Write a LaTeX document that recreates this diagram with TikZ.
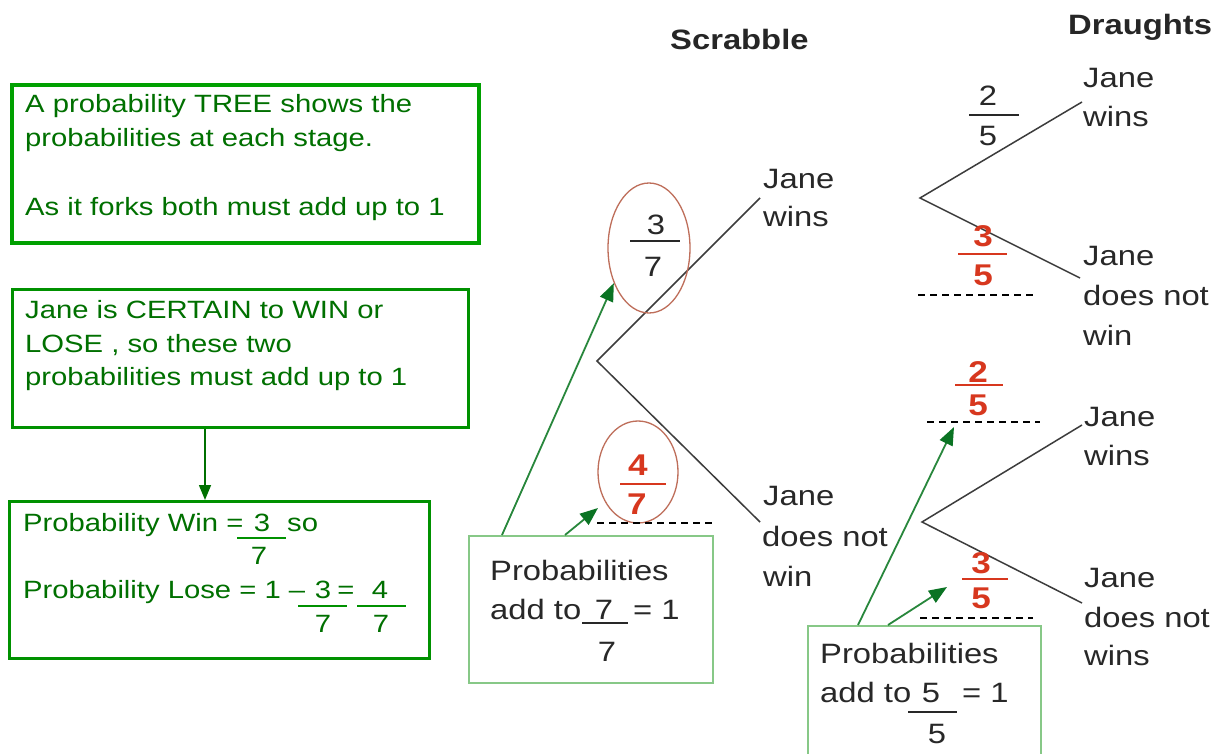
\documentclass[tikz,border=0pt]{standalone}
\usepackage{fontspec}
\setmainfont{Liberation Sans}[FakeStretch=1.17]
\usetikzlibrary{arrows.meta,shapes.geometric}
\definecolor{gtext}{RGB}{0,112,0}
\definecolor{gbord}{RGB}{0,160,0}
\definecolor{gbord2}{RGB}{0,145,0}
\definecolor{lbord}{RGB}{135,200,135}
\definecolor{tgray}{RGB}{40,40,40}
\definecolor{tline}{RGB}{60,60,60}
\definecolor{ellc}{RGB}{190,110,90}
\definecolor{redf}{RGB}{215,55,30}
\definecolor{garrow}{RGB}{40,135,60}
\definecolor{ghead}{RGB}{10,115,35}
\begin{document}
\begin{tikzpicture}[x=1pt,y=-1pt,
  gt/.style={anchor=base west,inner sep=0pt,text=gtext,font=\fontsize{25}{30}\selectfont},
  gd/.style={anchor=base,inner sep=0pt,text=gtext,font=\fontsize{25}{30}\selectfont},
  tt/.style={anchor=base west,inner sep=0pt,text=tgray,font=\fontsize{28}{30}\selectfont},
  td/.style={anchor=base,inner sep=0pt,text=tgray,font=\fontsize{28}{30}\selectfont},
  rd/.style={anchor=base,inner sep=0pt,text=redf,font=\bfseries\fontsize{30}{30}\selectfont},
  hd/.style={anchor=base west,inner sep=0pt,text=black!85,font=\bfseries\fontsize{28}{30}\selectfont},
  bigbox/.style={draw=gbord,line width=4pt,anchor=north west,inner sep=0pt},
  midbox/.style={draw=gbord2,line width=3pt,anchor=north west,inner sep=0pt},
  lbox/.style={draw=lbord,line width=1.5pt,anchor=north west,inner sep=0pt},
  ovl/.style={ellipse,draw=ellc,line width=1.3pt,inner sep=0pt},
  branch/.style={draw=tline,line width=1.5pt},
  dashline/.style={draw=black,line width=1.7pt,dash pattern=on 7pt off 5pt},
  fbar/.style={line width=1.4pt},
  garr/.style={draw=garrow,line width=1.8pt,-{Triangle[length=18pt,width=14pt,color=ghead]}},
  darr/.style={draw=gtext,line width=1.5pt,-{Triangle[length=15pt,width=12pt]}}
]
\fill[white] (0,0) rectangle (1223,754);
\useasboundingbox (0,0) rectangle (1223,754);

% ---------- left green boxes ----------
\node[bigbox,minimum width=467pt,minimum height=158pt] (b1) at (10,83) {};
\node[gt] (b1l1) at (25,113) {A probability TREE shows the};
\node[gt] (b1l2) at (25,147) {probabilities at each stage.};
\node[gt] (b1l3) at (25,215) {As it forks both must add up to 1};

\node[midbox,minimum width=456pt,minimum height=138pt] (b2) at (11,288) {};
\node[gt] (b2l1) at (25,318) {Jane is CERTAIN to WIN or};
\node[gt] (b2l2) at (25,352) {LOSE , so these two};
\node[gt] (b2l3) at (25,385) {probabilities must add up to 1};

\node[midbox,minimum width=420pt,minimum height=157pt] (b3) at (8,500) {};
\draw[darr] (b2.south -| 205,0) -- (b3.north -| 205,0);
\node[gt] (w1) at (23,531) {Probability Win =};
\node[gd] (w3) at (262,531) {3};
\node[gt] (wso) at (287,531) {so};
\draw[fbar,gbord2] (237,538) -- (286,538);
\node[gd] (w7) at (259,564) {7};
\node[gt] (l1) at (23,598) {Probability Lose = 1 \textendash};
\node[gd] (l3) at (323,598) {3};
\node[gd] (leq) at (346,598) {=};
\node[gd] (l4) at (380,598) {4};
\draw[fbar,gbord2] (298,606) -- (347,606);
\draw[fbar,gbord2] (357,606) -- (406,606);
\node[gd] (l7a) at (323,632) {7};
\node[gd] (l7b) at (381,632) {7};

% ---------- headers ----------
\node[hd] (hs) at (670,50) {Scrabble};
\node[hd] (hdr) at (1068,35) {Draughts};

% ---------- Scrabble tree ----------
\coordinate (s0) at (597,361);
\coordinate (s1) at (760,198);
\coordinate (s2) at (760,522);
\draw[branch] (s1) -- (s0) -- (s2);
\node[tt] (sj1) at (763,189) {Jane};
\node[tt] (sw1) at (763,226) {wins};
\node[tt] (sj2) at (763,505) {Jane};
\node[tt] (sd2) at (762,546) {does not};
\node[tt] (sw2) at (763,586) {win};

\node[ovl,minimum width=82pt,minimum height=130pt] (e1) at (649,248) {};
\node[td] (f3) at (656,234) {3};
\draw[fbar,tgray] (630,241) -- (680,241);
\node[td] (f7) at (653,276) {7};

\node[ovl,minimum width=80pt,minimum height=102pt] (e2) at (638,472) {};
\node[rd] (f4) at (638,475) {4};
\draw[fbar,redf,line width=2pt] (620,484) -- (666,484);
\node[rd] (f7r) at (637,514) {7};
\coordinate (d1a) at (597,523);
\coordinate (d1b) at (712,523);
\draw[dashline] (d1a) -- (d1b);

\node[lbox,minimum width=244pt,minimum height=147pt] (p1) at (468,535) {};
\node[tt] (p1l1) at (490,580) {Probabilities};
\node[tt] (p1l2) at (490,619) {add to};
\node[td] (p1n) at (604,619) {7};
\draw[fbar,tgray] (582,623) -- (628,623);
\node[tt] (p1e) at (633,619) {= 1};
\node[td] (p1d) at (607,661) {7};

\coordinate (a1s) at (502,535);
\coordinate (a2s) at (565,535);
\coordinate (a2e) at (598,508);
\draw[garr] (a1s) -- (e1.225);
\draw[garr] (a2s) -- (a2e);

% ---------- Draughts top ----------
\coordinate (t0) at (920,198);
\coordinate (t1) at (1082,102);
\coordinate (t2) at (1080,278);
\draw[branch] (t1) -- (t0) -- (t2);
\node[tt] (tj1) at (1083,88) {Jane};
\node[tt] (tw1) at (1083,127) {wins};
\node[tt] (tj2) at (1083,265) {Jane};
\node[tt] (td2) at (1083,305) {does not};
\node[tt] (tw2) at (1083,345) {win};
\node[td] (g2) at (988,106) {2};
\draw[fbar,tgray] (969,115) -- (1019,115);
\node[td] (g5) at (988,146) {5};
\node[rd] (r3a) at (983,247) {3};
\draw[fbar,redf,line width=2pt] (958,254) -- (1007,254);
\node[rd] (r5a) at (983,285) {5};
\draw[dashline] (918,295) -- (1033,295);

% ---------- Draughts bottom ----------
\coordinate (u0) at (922,522);
\coordinate (u1) at (1082,425);
\coordinate (u2) at (1082,603);
\draw[branch] (u1) -- (u0) -- (u2);
\node[tt] (uj1) at (1084,426) {Jane};
\node[tt] (uw1) at (1084,465) {wins};
\node[tt] (uj2) at (1084,587) {Jane};
\node[tt] (ud2) at (1084,627) {does not};
\node[tt] (uw2) at (1084,665) {wins};
\node[rd] (r2b) at (978,382) {2};
\draw[fbar,redf,line width=2pt] (955,385) -- (1003,385);
\node[rd] (r5b) at (978,415) {5};
\coordinate (d2a) at (927,422);
\coordinate (d2b) at (1040,422);
\draw[dashline] (d2a) -- (d2b);
\node[rd] (r3b) at (981,573) {3};
\draw[fbar,redf,line width=2pt] (962,579) -- (1008,579);
\node[rd] (r5c) at (981,608) {5};
\coordinate (d3a) at (920,618);
\coordinate (d3b) at (1033,618);
\draw[dashline] (d3a) -- (d3b);

\begin{scope}
\clip (0,0) rectangle (1223,754);
\node[lbox,minimum width=233pt,minimum height=140pt] (p2) at (807,625) {};
\end{scope}
\node[tt] (p2l1) at (820,663) {Probabilities};
\node[tt] (p2l2) at (820,702) {add to};
\node[td] (p2n) at (931,702) {5};
\draw[fbar,tgray] (908,712) -- (957,712);
\node[tt] (p2e) at (962,702) {= 1};
\node[td] (p2d) at (937,743) {5};

\coordinate (a3s) at (858,625);
\coordinate (a3e) at (954,427);
\coordinate (a4s) at (888,625);
\coordinate (a4e) at (947,587);
\draw[garr] (a3s) -- (a3e);
\draw[garr] (a4s) -- (a4e);
\end{tikzpicture}
\end{document}
